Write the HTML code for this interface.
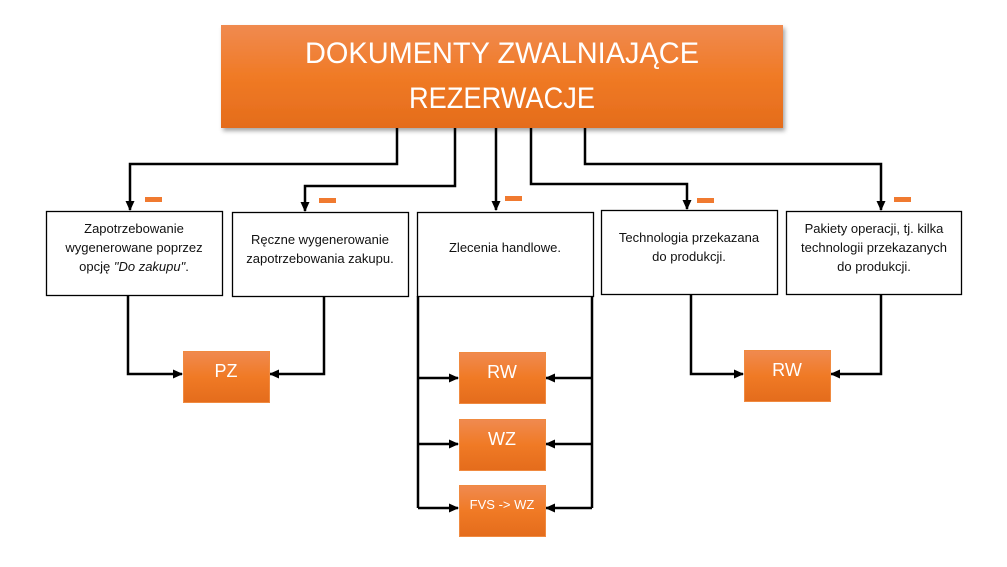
<!DOCTYPE html>
<html><head><meta charset="utf-8"><style>
html,body{margin:0;padding:0;background:#fff;width:1007px;height:567px;overflow:hidden}
svg{display:block}
text{font-family:"Liberation Sans",sans-serif}
</style></head><body>
<svg width="1007" height="567" viewBox="0 0 1007 567" xmlns="http://www.w3.org/2000/svg">
<defs>
<linearGradient id="g" x1="0" y1="0" x2="0" y2="1">
<stop offset="0" stop-color="#f08a50"/><stop offset="0.5" stop-color="#f07a25"/><stop offset="1" stop-color="#e46c1c"/>
</linearGradient>
<marker id="a" markerWidth="10" markerHeight="10" refX="9" refY="5" orient="auto" markerUnits="userSpaceOnUse">
<path d="M0,0.5 L10,5 L0,9.5 z" fill="#000"/></marker>
<filter id="s" x="-5%" y="-10%" width="110%" height="130%"><feDropShadow dx="2" dy="3" stdDeviation="2" flood-color="#000" flood-opacity="0.35"/></filter>
</defs>
<rect x="221" y="25" width="562" height="103" fill="url(#g)" filter="url(#s)"/>
<text x="502" y="63" font-size="30" fill="#fff" text-anchor="middle" textLength="394" lengthAdjust="spacingAndGlyphs">DOKUMENTY ZWALNIAJĄCE</text>
<text x="502" y="108" font-size="30" fill="#fff" text-anchor="middle" textLength="186" lengthAdjust="spacingAndGlyphs">REZERWACJE</text>
<g fill="none" stroke="#000" stroke-width="2.5">
<path d="M397,128 V164 H130 V210" marker-end="url(#a)"/>
<path d="M455,128 V186 H305 V211" marker-end="url(#a)"/>
<path d="M496,128 V210" marker-end="url(#a)"/>
<path d="M531,128 V184 H687 V209" marker-end="url(#a)"/>
<path d="M585,128 V164 H881 V210" marker-end="url(#a)"/>
<path d="M128,295 V374 H182" marker-end="url(#a)"/>
<path d="M324,296 V374 H270" marker-end="url(#a)"/>
<path d="M418,296 V508"/>
<path d="M592,296 V508"/>
<path d="M418,378 H458" marker-end="url(#a)"/>
<path d="M418,444 H458" marker-end="url(#a)"/>
<path d="M418,508 H458" marker-end="url(#a)"/>
<path d="M592,378 H546" marker-end="url(#a)"/>
<path d="M592,444 H546" marker-end="url(#a)"/>
<path d="M592,508 H546" marker-end="url(#a)"/>
<path d="M691,294 V374 H743" marker-end="url(#a)"/>
<path d="M881,294 V374 H831" marker-end="url(#a)"/>
</g>
<g fill="#f07a30">
<rect x="145" y="197" width="17" height="5"/>
<rect x="319" y="198" width="17" height="5"/>
<rect x="505" y="196" width="17" height="5"/>
<rect x="697" y="198" width="17" height="5"/>
<rect x="894" y="197" width="17" height="5"/>
</g>
<g fill="#fff" stroke="#000" stroke-width="1.3">
<rect x="46.5" y="211.5" width="176" height="84"/>
<rect x="232.5" y="212.5" width="176" height="84"/>
<rect x="417.5" y="212.5" width="176" height="84"/>
<rect x="601.5" y="210.5" width="176" height="84"/>
<rect x="786.5" y="211.5" width="175" height="83"/>
</g>
<g font-size="13" fill="#111" text-anchor="middle">
<text x="134" y="233">Zapotrzebowanie</text>
<text x="134" y="252">wygenerowane poprzez</text>
<text x="134" y="271">opcję <tspan font-style="italic">"Do zakupu"</tspan>.</text>
<text x="320" y="244">Ręczne wygenerowanie</text>
<text x="320" y="263">zapotrzebowania zakupu.</text>
<text x="505" y="252">Zlecenia handlowe.</text>
<text x="689" y="242">Technologia przekazana</text>
<text x="689" y="261">do produkcji.</text>
<text x="874" y="233">Pakiety operacji, tj. kilka</text>
<text x="874" y="252">technologii przekazanych</text>
<text x="874" y="271">do produkcji.</text>
</g>
<g stroke="#f08a40" stroke-width="1">
<rect x="183.5" y="351.5" width="86" height="51" fill="url(#g)"/>
<rect x="459.5" y="352.5" width="86" height="51" fill="url(#g)"/>
<rect x="459.5" y="419.5" width="86" height="51" fill="url(#g)"/>
<rect x="459.5" y="485.5" width="86" height="51" fill="url(#g)"/>
<rect x="744.5" y="350.5" width="86" height="51" fill="url(#g)"/>
</g>
<g fill="#fff" text-anchor="middle">
<text x="226" y="377" font-size="18">PZ</text>
<text x="502" y="378" font-size="18">RW</text>
<text x="502" y="445" font-size="18">WZ</text>
<text x="502" y="509" font-size="13">FVS -&gt; WZ</text>
<text x="787" y="376" font-size="18">RW</text>
</g>
</svg>
</body></html>
